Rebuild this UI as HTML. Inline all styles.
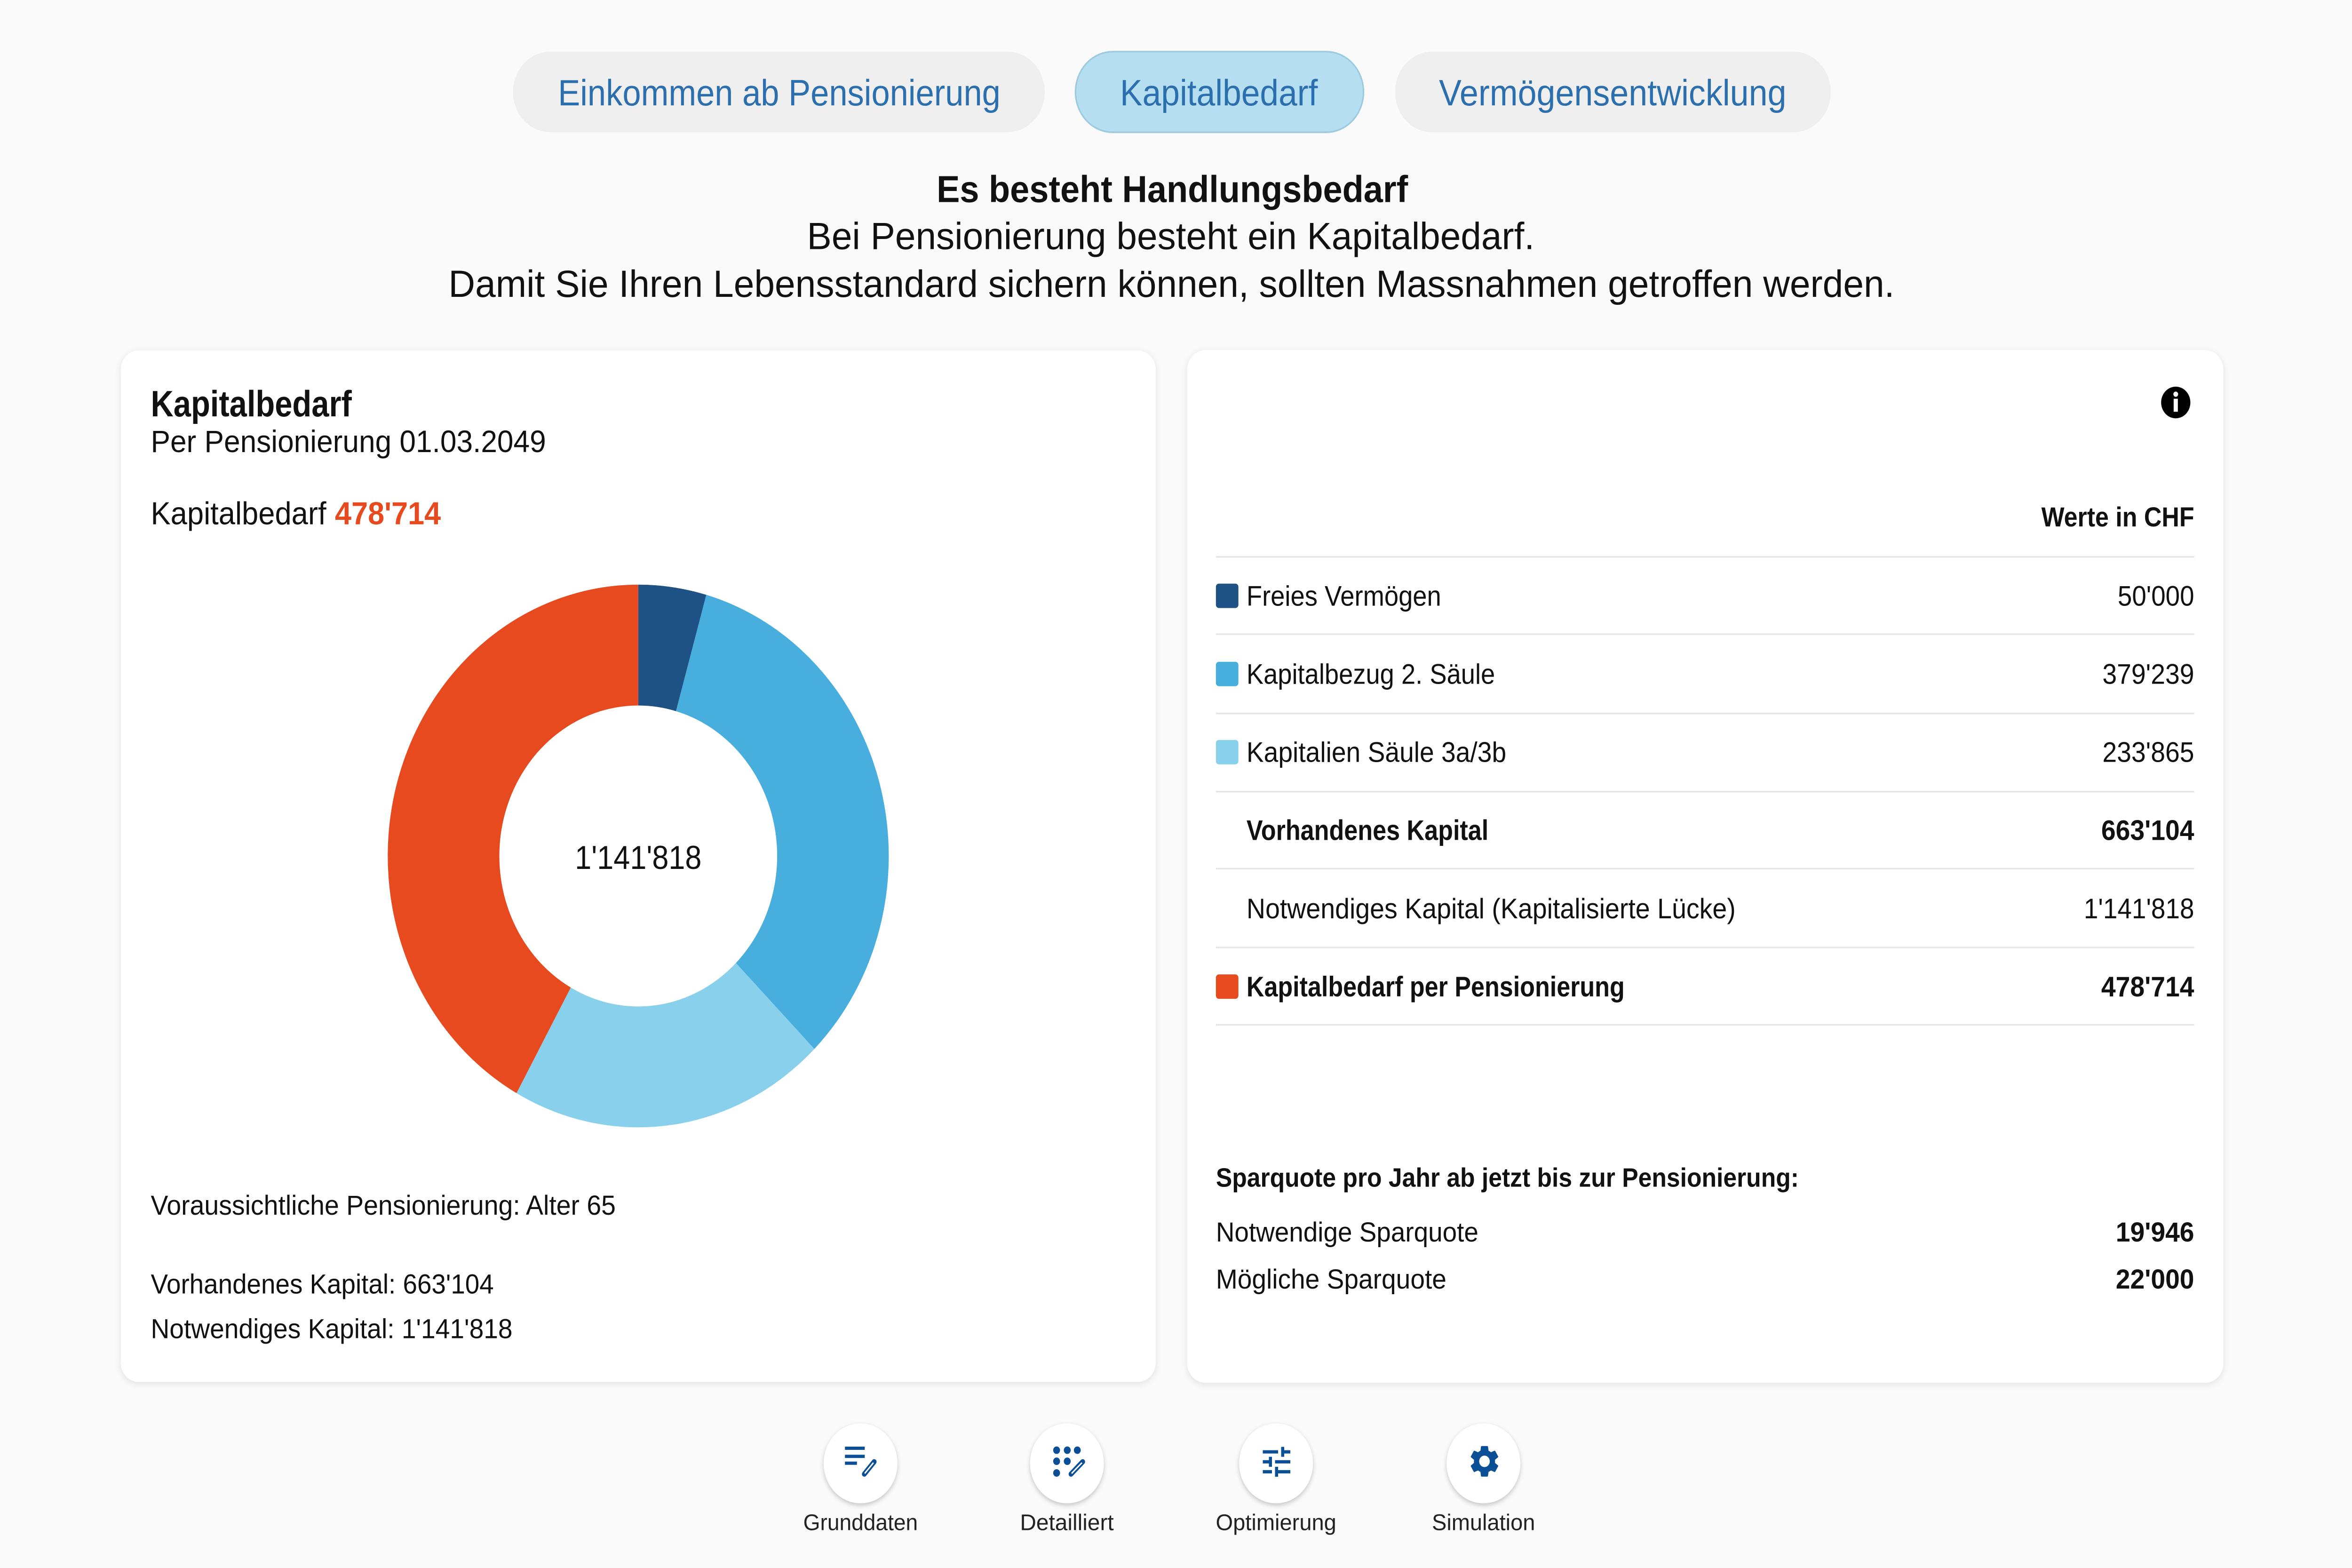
<!DOCTYPE html>
<html>
<head>
<meta charset="utf-8">
<style>
html,body{margin:0;padding:0;background:#fafafa;overflow:hidden;width:100%;height:100%;}
svg{display:block;width:100vw;height:100vh;position:fixed;left:0;top:0;}
text{font-family:"Liberation Sans",Arial,sans-serif;}
</style>
</head>
<body>
<svg xmlns="http://www.w3.org/2000/svg" viewBox="0 0 1568 965" preserveAspectRatio="none">
<defs>
  <filter id="card" x="-5%" y="-5%" width="110%" height="110%">
    <feDropShadow dx="0" dy="1" stdDeviation="2" flood-color="#000" flood-opacity="0.10"/>
  </filter>
  <filter id="btn" x="-30%" y="-30%" width="160%" height="160%">
    <feDropShadow dx="0" dy="1.2" stdDeviation="1.4" flood-color="#000" flood-opacity="0.22"/>
  </filter>
</defs>
<rect x="0" y="0" width="1568" height="965" fill="#fafafa"/>

<!-- Tabs -->
<rect x="342" y="31.8" width="354.5" height="49.6" rx="24.8" fill="#efefef"/>
<text x="372" y="64.8" font-size="22.5" fill="#2b6fae" textLength="295" lengthAdjust="spacingAndGlyphs">Einkommen ab Pensionierung</text>
<rect x="717" y="31.8" width="192" height="49.6" rx="24.8" fill="#b5dff1" stroke="#9dcadf" stroke-width="1"/>
<text x="746.7" y="64.8" font-size="22.5" fill="#2b6fae" textLength="131.8" lengthAdjust="spacingAndGlyphs">Kapitalbedarf</text>
<rect x="930" y="31.8" width="290.5" height="49.6" rx="24.8" fill="#efefef"/>
<text x="959.3" y="64.8" font-size="22.5" fill="#2b6fae" textLength="231.6" lengthAdjust="spacingAndGlyphs">Vermögensentwicklung</text>

<!-- Headline -->
<text x="624.4" y="124.3" font-size="23" font-weight="bold" fill="#111" textLength="314.3" lengthAdjust="spacingAndGlyphs">Es besteht Handlungsbedarf</text>
<text x="538" y="153.3" font-size="23.5" fill="#111" textLength="485" lengthAdjust="spacingAndGlyphs">Bei Pensionierung besteht ein Kapitalbedarf.</text>
<text x="299" y="182.7" font-size="23.5" fill="#111" textLength="964" lengthAdjust="spacingAndGlyphs">Damit Sie Ihren Lebensstandard sichern können, sollten Massnahmen getroffen werden.</text>

<!-- Left card -->
<rect x="80.5" y="215.7" width="690" height="634.8" rx="12" fill="#fff" filter="url(#card)"/>
<text x="100.5" y="256.2" font-size="22.5" font-weight="bold" fill="#111" textLength="134" lengthAdjust="spacingAndGlyphs">Kapitalbedarf</text>
<text x="100.5" y="278.2" font-size="19" fill="#111" textLength="263.5" lengthAdjust="spacingAndGlyphs">Per Pensionierung 01.03.2049</text>
<text x="100.5" y="322.7" font-size="19.5" fill="#111" textLength="117" lengthAdjust="spacingAndGlyphs">Kapitalbedarf</text>
<text x="223.3" y="322.7" font-size="19.5" font-weight="bold" fill="#e64a1e" textLength="70.6" lengthAdjust="spacingAndGlyphs">478'714</text>

<!-- Donut -->
<path d="M425.5,359.8 A167,167 0 0 1 470.87,366.08 L450.66,437.68 A92.6,92.6 0 0 0 425.5,434.2 Z" fill="#1e5284"/>
<path d="M470.87,366.08 A167,167 0 0 1 542.90,645.57 L490.60,592.66 A92.6,92.6 0 0 0 450.66,437.68 Z" fill="#47aede"/>
<path d="M542.90,645.57 A167,167 0 0 1 344.36,672.76 L380.51,607.74 A92.6,92.6 0 0 0 490.60,592.66 Z" fill="#89d0ec"/>
<path d="M344.36,672.76 A167,167 0 0 1 425.5,359.8 L425.5,434.2 A92.6,92.6 0 0 0 380.51,607.74 Z" fill="#e64a1e"/>
<text x="383.3" y="534.7" font-size="20.5" fill="#111" textLength="84.4" lengthAdjust="spacingAndGlyphs">1'141'818</text>

<text x="100.5" y="747.6" font-size="17" fill="#111" textLength="310" lengthAdjust="spacingAndGlyphs">Voraussichtliche Pensionierung: Alter 65</text>
<text x="100.5" y="796.1" font-size="17" fill="#111" textLength="228.7" lengthAdjust="spacingAndGlyphs">Vorhandenes Kapital: 663'104</text>
<text x="100.5" y="823.6" font-size="17" fill="#111" textLength="241.2" lengthAdjust="spacingAndGlyphs">Notwendiges Kapital: 1'141'818</text>

<!-- Right card -->
<rect x="791.5" y="215.5" width="690.7" height="635.5" rx="12" fill="#fff" filter="url(#card)"/>
<circle cx="1450.5" cy="247.7" r="9.75" fill="#000"/>
<circle cx="1450.5" cy="242.6" r="1.6" fill="#fff"/>
<rect x="1449.1" y="245.4" width="2.8" height="8" fill="#fff"/>

<text x="1360.9" y="324" font-size="17" font-weight="bold" fill="#111" textLength="101.9" lengthAdjust="spacingAndGlyphs">Werte in CHF</text>

<g stroke="#e6e6e6" stroke-width="1">
  <line x1="810.6" y1="342.7" x2="1462.8" y2="342.7"/>
  <line x1="810.6" y1="390.3" x2="1462.8" y2="390.3"/>
  <line x1="810.6" y1="439.1" x2="1462.8" y2="439.1"/>
  <line x1="810.6" y1="487.2" x2="1462.8" y2="487.2"/>
  <line x1="810.6" y1="534.6" x2="1462.8" y2="534.6"/>
  <line x1="810.6" y1="583.1" x2="1462.8" y2="583.1"/>
  <line x1="810.6" y1="630.7" x2="1462.8" y2="630.7"/>
</g>

<rect x="810.6" y="359.2" width="15" height="15" rx="2" fill="#1e5284"/>
<text x="831" y="372.7" font-size="17.5" fill="#111" textLength="129.8" lengthAdjust="spacingAndGlyphs">Freies Vermögen</text>
<text x="1462.8" y="372.7" font-size="17.5" fill="#111" text-anchor="end" textLength="51" lengthAdjust="spacingAndGlyphs">50'000</text>

<rect x="810.6" y="407.3" width="15" height="15" rx="2" fill="#47aede"/>
<text x="831" y="420.8" font-size="17.5" fill="#111" textLength="165.7" lengthAdjust="spacingAndGlyphs">Kapitalbezug 2. Säule</text>
<text x="1462.8" y="420.8" font-size="17.5" fill="#111" text-anchor="end" textLength="61.2" lengthAdjust="spacingAndGlyphs">379'239</text>

<rect x="810.6" y="455.4" width="15" height="15" rx="2" fill="#89d0ec"/>
<text x="831" y="468.9" font-size="17.5" fill="#111" textLength="173.2" lengthAdjust="spacingAndGlyphs">Kapitalien Säule 3a/3b</text>
<text x="1462.8" y="468.9" font-size="17.5" fill="#111" text-anchor="end" textLength="61.2" lengthAdjust="spacingAndGlyphs">233'865</text>

<text x="831" y="517" font-size="17.5" font-weight="bold" fill="#111" textLength="161.3" lengthAdjust="spacingAndGlyphs">Vorhandenes Kapital</text>
<text x="1462.8" y="517" font-size="17.5" font-weight="bold" fill="#111" text-anchor="end" textLength="62" lengthAdjust="spacingAndGlyphs">663'104</text>

<text x="831" y="565.1" font-size="17.5" fill="#111" textLength="326.1" lengthAdjust="spacingAndGlyphs">Notwendiges Kapital (Kapitalisierte Lücke)</text>
<text x="1462.8" y="565.1" font-size="17.5" fill="#111" text-anchor="end" textLength="73.6" lengthAdjust="spacingAndGlyphs">1'141'818</text>

<rect x="810.6" y="599.7" width="15" height="15" rx="2" fill="#e64a1e"/>
<text x="831" y="613.2" font-size="17.5" font-weight="bold" fill="#111" textLength="252.1" lengthAdjust="spacingAndGlyphs">Kapitalbedarf per Pensionierung</text>
<text x="1462.8" y="613.2" font-size="17.5" font-weight="bold" fill="#111" text-anchor="end" textLength="62" lengthAdjust="spacingAndGlyphs">478'714</text>

<text x="810.6" y="730.3" font-size="16.5" font-weight="bold" fill="#111" textLength="388.6" lengthAdjust="spacingAndGlyphs">Sparquote pro Jahr ab jetzt bis zur Pensionierung:</text>
<text x="810.6" y="764" font-size="17" fill="#111" textLength="175" lengthAdjust="spacingAndGlyphs">Notwendige Sparquote</text>
<text x="1462.8" y="764" font-size="17" font-weight="bold" fill="#111" text-anchor="end" textLength="52.3" lengthAdjust="spacingAndGlyphs">19'946</text>
<text x="810.6" y="793" font-size="17" fill="#111" textLength="153.7" lengthAdjust="spacingAndGlyphs">Mögliche Sparquote</text>
<text x="1462.8" y="793" font-size="17" font-weight="bold" fill="#111" text-anchor="end" textLength="52.3" lengthAdjust="spacingAndGlyphs">22'000</text>

<!-- Bottom nav -->
<circle cx="573.7" cy="900.6" r="24.6" fill="#fff" filter="url(#btn)"/>
<circle cx="711.3" cy="900.6" r="24.6" fill="#fff" filter="url(#btn)"/>
<circle cx="850.7" cy="900.6" r="24.6" fill="#fff" filter="url(#btn)"/>
<circle cx="989" cy="900.6" r="24.6" fill="#fff" filter="url(#btn)"/>

<!-- Grunddaten icon -->
<g fill="#0b4f96">
  <rect x="563.3" y="890.3" width="13.2" height="2"/>
  <rect x="563.3" y="895.3" width="13.2" height="2"/>
  <rect x="563.3" y="899.5" width="8" height="2"/>
</g>
<line x1="576.2" y1="907.2" x2="582.8" y2="899.6" stroke="#0b4f96" stroke-width="3.2" stroke-linecap="round"/>
<line x1="576.5" y1="906.8" x2="582.3" y2="900.2" stroke="#fff" stroke-width="0.9"/>

<!-- Detailliert icon -->
<g fill="#0b4f96">
  <circle cx="704.4" cy="892.5" r="2.3"/>
  <circle cx="711.5" cy="892.5" r="2.3"/>
  <circle cx="718.2" cy="892.5" r="2.3"/>
  <circle cx="704.4" cy="899.3" r="2.3"/>
  <circle cx="711.5" cy="899.3" r="2.3"/>
  <circle cx="704.4" cy="906.5" r="2.3"/>
</g>
<line x1="714" y1="907.2" x2="721.8" y2="899.6" stroke="#0b4f96" stroke-width="3.2" stroke-linecap="round"/>
<line x1="714.4" y1="906.8" x2="721.3" y2="900.2" stroke="#fff" stroke-width="0.9"/>

<!-- Optimierung (tune) icon -->
<g transform="translate(838.8,887.4) scale(1.02)" fill="#0b4f96">
  <path d="M3 17v2h6v-2H3zM3 5v2h10V5H3zm10 16v-2h8v-2h-8v-2h-2v6h2zM7 9v2H3v2h4v2h2V9H7zm14 4v-2H11v2h10zm-6-4h2V7h4V5h-4V3h-2v6z"/>
</g>

<!-- Simulation (gear) icon -->
<g transform="translate(977.9,887.6) scale(0.98)" fill="#0b4f96">
  <path d="M19.14 12.94c.04-.3.06-.61.06-.94 0-.32-.02-.64-.07-.94l2.03-1.58c.18-.14.23-.41.12-.61l-1.92-3.32c-.12-.22-.37-.29-.59-.22l-2.39.96c-.5-.38-1.030-.7-1.62-.94l-.36-2.54c-.04-.24-.24-.41-.48-.41h-3.84c-.24 0-.43.17-.47.41l-.36 2.54c-.59.24-1.13.57-1.62.94l-2.39-.96c-.22-.08-.47 0-.59.22L2.74 8.87c-.12.21-.08.47.12.61l2.03 1.58c-.05.3-.09.63-.09.94s.02.64.07.94l-2.03 1.58c-.18.14-.23.41-.12.61l1.92 3.32c.12.22.37.29.59.22l2.39-.96c.5.38 1.03.7 1.62.94l.36 2.54c.05.24.24.41.48.41h3.84c.24 0 .44-.17.47-.41l.36-2.54c.59-.24 1.13-.56 1.62-.94l2.39.96c.22.08.47 0 .59-.22l1.92-3.32c.12-.22.07-.47-.12-.61l-2.01-1.58zM12 15.6c-1.98 0-3.6-1.62-3.6-3.6s1.62-3.6 3.6-3.6 3.6 1.62 3.6 3.6-1.62 3.6-3.6 3.6z"/>
</g>

<text x="535.5" y="941.7" font-size="14" fill="#222" textLength="76.4" lengthAdjust="spacingAndGlyphs">Grunddaten</text>
<text x="680" y="941.7" font-size="14" fill="#222" textLength="62.5" lengthAdjust="spacingAndGlyphs">Detailliert</text>
<text x="810.5" y="941.7" font-size="14" fill="#222" textLength="80.4" lengthAdjust="spacingAndGlyphs">Optimierung</text>
<text x="954.6" y="941.7" font-size="14" fill="#222" textLength="68.8" lengthAdjust="spacingAndGlyphs">Simulation</text>
</svg>
</body>
</html>
